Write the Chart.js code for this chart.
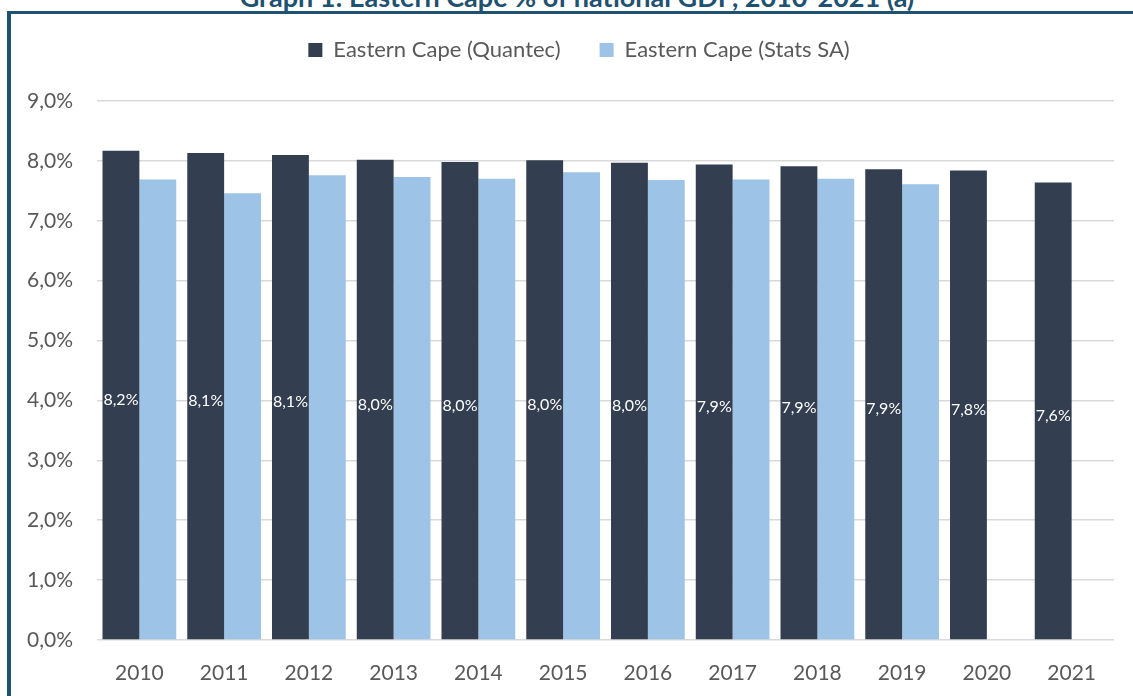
<!DOCTYPE html>
<html lang="en">
<head>
    <meta charset="UTF-8">
    <title>Graph 1: Eastern Cape % of national GDP</title>
    <style>
        body {
            margin: 0;
            width: 1133px;
            height: 696px;
            overflow: hidden;
            background: #ffffff;
            font-family: Lato, "Open Sans", sans-serif;
            position: relative;
        }
        #title {
            position: absolute;
            left: 0;
            width: 1154px;
            top: -17px;
            text-align: center;
            font-weight: bold;
            font-size: 27px;
            line-height: 27px;
            color: #1f5170;
            white-space: nowrap;
        }
        #frame {
            position: absolute;
            left: 7px;
            top: 11px;
            width: 1140px;
            height: 700px;
            border-top: 3px solid #1f5170;
            border-left: 4px solid #1f5170;
        }
        #wrap {
            position: absolute;
            left: 0;
            top: 0;
            width: 1133px;
            height: 696px;
        }
    </style>
</head>
<body>
    <div id="title">Graph 1: Eastern Cape % of national GDP, 2010-2021 (a)</div>
    <div id="frame"></div>
    <div id="wrap"><canvas id="chart"></canvas></div>
    <script src="https://cdn.jsdelivr.net/npm/chart.js"></script>
    <script>
        // values (% of national GDP)
        const years = ['2010', '2011', '2012', '2013', '2014', '2015', '2016', '2017', '2018', '2019', '2020', '2021'];
        const quantec = [8.17, 8.13, 8.10, 8.02, 7.98, 8.01, 7.97, 7.94, 7.91, 7.86, 7.84, 7.64];
        const statsSA = [7.69, 7.46, 7.76, 7.73, 7.70, 7.81, 7.68, 7.69, 7.70, 7.61, null, null];
        const yTicks = [0, 1, 2, 3, 4, 5, 6, 7, 8, 9];

        const pct = v => v.toFixed(1).replace('.', ',') + '%';

        // white value labels in the middle of the Quantec bars
        const barLabels = {
            id: 'barLabels',
            afterDatasetsDraw(chart) {
                const c = chart.ctx;
                const meta = chart.getDatasetMeta(0);
                c.save();
                c.fillStyle = '#ffffff';
                c.font = '16px Lato, "Open Sans", sans-serif';
                c.textAlign = 'center';
                c.textBaseline = 'middle';
                meta.data.forEach((bar, i) => {
                    c.fillText(pct(quantec[i]), bar.x, (bar.y + bar.base) / 2 + 5);
                });
                c.restore();
            }
        };

        // leave more room between legend and plot, and centre it a bit further right
        const legendGap = {
            id: 'legendGap',
            beforeInit(chart) {
                const fit = chart.legend.fit;
                chart.legend.fit = function () {
                    fit.bind(chart.legend)();
                    this.height += 30;
                };
            },
            afterLayout(chart) {
                chart.legend.left += 22;
                chart.legend.right += 22;
            }
        };

        const ctx = document.getElementById('chart').getContext('2d');
        const chart = new Chart(ctx, {
            type: 'bar',
            data: {
                labels: years,
                datasets: [{
                    label: 'Eastern Cape (Quantec)',
                    data: quantec,
                    backgroundColor: '#333f50',
                    categoryPercentage: 0.87,
                    barPercentage: 1.0
                }, {
                    label: 'Eastern Cape (Stats SA)',
                    data: statsSA,
                    backgroundColor: '#9dc3e6',
                    categoryPercentage: 0.87,
                    barPercentage: 1.0
                }]
            },
            options: {
                responsive: true,
                maintainAspectRatio: false,
                animation: false,
                layout: {
                    padding: { top: 0, right: 19, bottom: 0, left: 0 }
                },
                plugins: {
                    legend: {
                        position: 'top',
                        labels: {
                            boxWidth: 14,
                            boxHeight: 14,
                            padding: 39,
                            color: '#595959',
                            font: { family: 'Lato', size: 22 }
                        }
                    },
                    tooltip: { enabled: false }
                },
                scales: {
                    x: {
                        grid: { display: false },
                        border: { display: false },
                        ticks: {
                            color: '#595959',
                            padding: 13,
                            font: { family: 'Lato', size: 21 }
                        },
                        afterFit(scale) { scale.height = 56; }
                    },
                    y: {
                        min: 0,
                        max: 9,
                        afterBuildTicks(scale) {
                            scale.ticks = yTicks.map(v => ({ value: v }));
                        },
                        grid: {
                            color: '#d9d9d9',
                            lineWidth: 1.5,
                            drawTicks: false
                        },
                        border: { display: false },
                        ticks: {
                            color: '#595959',
                            padding: 24,
                            font: { family: 'Lato', size: 21 },
                            callback: v => pct(v)
                        },
                        afterFit(scale) { scale.width = 97; }
                    }
                }
            },
            plugins: [barLabels, legendGap]
        });
    </script>
</body>
</html>
